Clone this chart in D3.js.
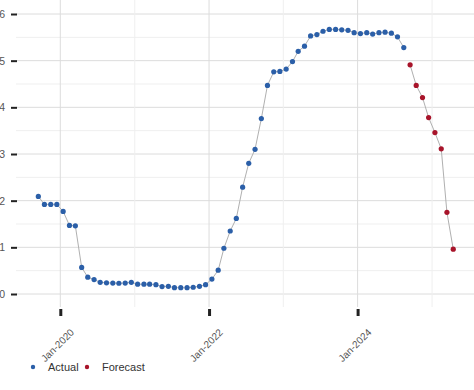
<!DOCTYPE html>
<html><head><meta charset="utf-8">
<script src="https://cdn.jsdelivr.net/npm/d3@7"></script>
<style>body{margin:0;background:#fff;}svg{display:block;font-family:"Liberation Sans",Arial,sans-serif;}</style>
</head><body><svg id="c" width="474" height="390"></svg>
<script>
const actualStart = "2019-09";
const actualValues = [2.09,1.92,1.92,1.92,
 1.77,1.47,1.46,0.57,0.36,0.31,0.25,0.24,0.235,0.23,0.235,0.25,
 0.21,0.21,0.21,0.20,0.16,0.165,0.135,0.135,0.135,0.145,0.165,0.20,
 0.32,0.51,0.98,1.35,1.62,2.29,2.80,3.10,3.76,4.47,4.76,4.77,
 4.82,4.98,5.20,5.31,5.53,5.56,5.63,5.67,5.67,5.66,5.65,5.60,
 5.58,5.60,5.57,5.60,5.61,5.59,5.51,5.28];
const forecastStart = "2024-09";
const forecastValues = [4.91,4.47,4.21,3.78,3.46,3.11,1.75,0.96];
const yTicks = [0,1,2,3,4,5,6];
const xTickLabels = ["Jan-2020","Jan-2022","Jan-2024"];
const legendLabels = ["Actual","Forecast"];
const colors = {Actual:"#2b5fa8", Forecast:"#a8142a"};

const parseM = d3.timeParse("%Y-%m");
function series(start, vals){
  const s = parseM(start);
  return vals.map((v,i)=>({date:new Date(s.getFullYear(), s.getMonth()+i, 15), value:v}));
}
const actual = series(actualStart, actualValues);
const forecast = series(forecastStart, forecastValues);

const svg = d3.select("#c");
const x = d3.scaleTime().domain([new Date(2020,0,1), new Date(2024,0,1)]).range([60.3, 357.6]);
const y = d3.scaleLinear().domain([0,6]).range([294,14]);
const plotTop = 0, plotBottom = 307, plotLeft = 16, plotRight = 474;

// horizontal grid (minor halves, major integers)
const g = svg.append("g");
g.selectAll(".hmin").data(d3.range(0.5,6,1)).join("line")
 .attr("x1",plotLeft).attr("x2",plotRight).attr("y1",d=>y(d)).attr("y2",d=>y(d))
 .attr("stroke","#efefef").attr("stroke-width",1);
g.selectAll(".hmaj").data(yTicks).join("line")
 .attr("x1",plotLeft).attr("x2",plotRight).attr("y1",d=>y(d)).attr("y2",d=>y(d))
 .attr("stroke","#dcdcdc").attr("stroke-width",1);
// vertical grid
const majorYears = [2020,2022,2024].map(yr=>new Date(yr,0,1));
const minorYears = [2021,2023,2025].map(yr=>new Date(yr,0,1));
g.selectAll(".vmin").data(minorYears).join("line")
 .attr("x1",d=>x(d)).attr("x2",d=>x(d)).attr("y1",plotTop).attr("y2",plotBottom)
 .attr("stroke","#efefef");
g.selectAll(".vmaj").data(majorYears).join("line")
 .attr("x1",d=>x(d)).attr("x2",d=>x(d)).attr("y1",plotTop).attr("y2",plotBottom)
 .attr("stroke","#dcdcdc");

// y axis
const yAxis = d3.axisLeft(y).tickValues(yTicks).tickSize(6).tickPadding(6).tickFormat(d3.format("d"));
const ya = svg.append("g").attr("transform","translate(17,0)").call(yAxis);
ya.select(".domain").remove();
ya.selectAll(".tick line").attr("stroke","#222").attr("stroke-width",2);
ya.selectAll(".tick text").attr("fill","#555").attr("font-size",10.5);

// x axis
const xAxis = d3.axisBottom(x).tickValues(majorYears).tickSize(7).tickFormat((d,i)=>xTickLabels[i]);
const xa = svg.append("g").attr("transform","translate(0,309)").call(xAxis);
xa.select(".domain").remove();
xa.selectAll(".tick line").attr("stroke","#222").attr("stroke-width",3);
xa.selectAll(".tick text").attr("fill","#555").attr("font-size",10)
  .attr("text-anchor","end").attr("dy",null).attr("y",null)
  .attr("transform","translate(14,24) rotate(-45)");

// lines
const line = d3.line().x(d=>x(d.date)).y(d=>y(d.value));
svg.append("path").datum(actual).attr("d",line).attr("fill","none").attr("stroke","#b0b0b0").attr("stroke-width",1);
svg.append("path").datum(forecast).attr("d",line).attr("fill","none").attr("stroke","#b0b0b0").attr("stroke-width",1);

svg.append("g").selectAll("circle").data(actual).join("circle")
 .attr("cx",d=>x(d.date)).attr("cy",d=>y(d.value)).attr("r",2.6).attr("fill",colors.Actual);
svg.append("g").selectAll("circle").data(forecast).join("circle")
 .attr("cx",d=>x(d.date)).attr("cy",d=>y(d.value)).attr("r",2.6).attr("fill",colors.Forecast);

// legend
const lg = svg.append("g").attr("transform","translate(33,367)");
const items = lg.selectAll("g").data(legendLabels).join("g").attr("transform",(d,i)=>`translate(${i*54},0)`);
items.append("circle").attr("r",2.2).attr("fill",d=>colors[d]);
items.append("text").attr("x",15).attr("dy","0.35em").attr("font-size",11).attr("fill","#333").text(d=>d);
</script></body></html>
